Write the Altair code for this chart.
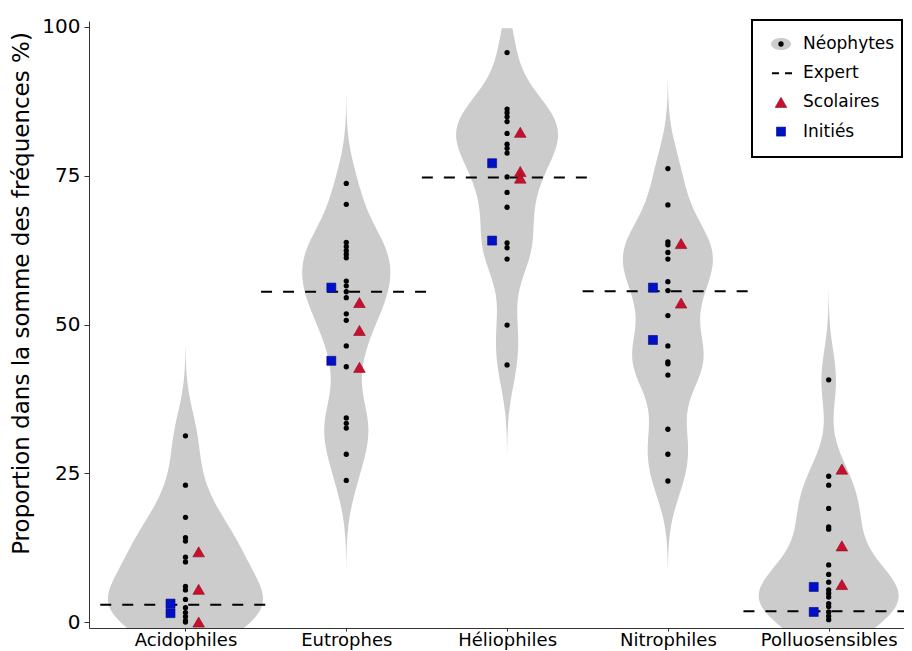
import json
import numpy as np
import pandas as pd
import altair as alt

# ---------------- data ----------------
categories = ["Acidophiles", "Eutrophes", "Héliophiles", "Nitrophiles", "Polluosensibles"]

neo_acidophiles = [31.3, 23.0, 17.6, 14.2, 13.6, 10.9, 10.1, 6.0, 5.4, 3.8, 2.4, 1.6, 0.9, 0.2, 0.0]
neo_eutrophes = [73.7, 70.2, 63.8, 63.1, 62.4, 61.8, 61.2, 57.3, 56.5, 55.5, 54.5, 51.8, 50.7,
                 46.4, 42.9, 34.3, 33.4, 32.6, 28.2, 23.8]
neo_heliophiles = [95.7, 86.2, 85.6, 84.9, 84.1, 82.1, 80.3, 79.6, 78.8, 74.8, 72.2, 69.7, 63.7,
                   62.9, 61.0, 49.9, 43.2]
neo_nitrophiles = [76.2, 70.1, 63.9, 63.4, 62.1, 61.0, 57.2, 55.7, 51.5, 46.4, 43.7, 43.4, 41.5,
                   32.4, 28.2, 23.7]
neo_polluosensibles = [40.7, 24.5, 23.0, 19.1, 16.0, 15.6, 9.6, 8.0, 6.7, 5.4, 4.8, 4.2, 3.1,
                       2.6, 1.7, 1.0, 0.4]

expert = [2.9, 55.5, 74.7, 55.6, 1.8]

scolaires_acidophiles = [11.8, 5.5, 0.0]
scolaires_eutrophes = [53.7, 49.0, 42.8]
scolaires_heliophiles = [82.3, 75.7, 74.6]
scolaires_nitrophiles = [63.6, 53.6]
scolaires_polluosensibles = [25.7, 12.8, 6.3]

inities_acidophiles = [3.1, 1.5]
inities_eutrophes = [56.2, 43.9]
inities_heliophiles = [77.1, 64.1]
inities_nitrophiles = [56.2, 47.4]
inities_polluosensibles = [5.9, 1.7]

violin_bandwidth = 5.0
y_ticks = [0, 25, 50, 75, 100]
legend_labels = ["Néophytes", "Expert", "Scolaires", "Initiés"]
y_title = "Proportion dans la somme des fréquences %)"

# ---------------- style / layout ----------------
# widest extent of each violin, in x-axis units (as seen on the reference)
violin_width = [0.964, 0.548, 0.634, 0.56, 0.87]
FONT = "DejaVu Sans"
PLOT_W, PLOT_H = 815, 607
PX_PER_UNIT = 160.8
X_MIN = 0.4
X_MAX = X_MIN + PLOT_W / PX_PER_UNIT

# ---------------- tables ----------------
neo = [neo_acidophiles, neo_eutrophes, neo_heliophiles, neo_nitrophiles, neo_polluosensibles]
sco = [scolaires_acidophiles, scolaires_eutrophes, scolaires_heliophiles,
       scolaires_nitrophiles, scolaires_polluosensibles]
ini = [inities_acidophiles, inities_eutrophes, inities_heliophiles,
       inities_nitrophiles, inities_polluosensibles]

df_neo = pd.DataFrame([{"cat": c, "idx": i + 1, "hw": violin_width[i] / 2, "value": v}
                       for i, c in enumerate(categories) for v in neo[i]])
df_sco = pd.DataFrame([{"cat": c, "idx": i + 1, "value": v}
                       for i, c in enumerate(categories) for v in sco[i]])
df_ini = pd.DataFrame([{"cat": c, "idx": i + 1, "value": v}
                       for i, c in enumerate(categories) for v in ini[i]])
df_exp = pd.DataFrame({"cat": categories, "idx": list(range(1, 6)), "value": expert})

BW = violin_bandwidth
x_scale = alt.Scale(domain=[X_MIN, X_MAX], nice=False, zero=False)
y_scale = alt.Scale(domain=[-1, 101], nice=False, zero=False)
label_expr = json.dumps(categories) + "[round(datum.value) - 1]"

x_axis = alt.Axis(values=[1, 2, 3, 4, 5], labelExpr=label_expr, title=None, grid=False,
                  tickSize=3, labelFontSize=18, labelFont=FONT, labelColor="black",
                  labelPadding=0, domainColor="#333333", tickColor="#333333", labelFlush=False,
                  labelOverlap=False)
y_axis = alt.Axis(values=y_ticks, title=y_title, grid=False, tickSize=5, labelFontSize=20,
                  labelFont=FONT, labelColor="black", labelPadding=4, domainColor="#333333",
                  tickColor="#333333", titleFont=FONT, titleFontSize=23, titleFontWeight="normal",
                  titleColor="black", titleX=-68, titleY=272, titleAngle=270,
                  titleAlign="center", titleBaseline="middle")

# ---------------- violins ----------------
violin = (
    alt.Chart(df_neo)
    .transform_joinaggregate(lo="min(value)", hi="max(value)", groupby=["cat"])
    .transform_density("value", groupby=["cat", "idx", "hw", "lo", "hi"], bandwidth=BW,
                       extent=[-20, 120], steps=561)
    .transform_filter(f"datum.value >= datum.lo - {3 * BW} && datum.value <= datum.hi + {3 * BW}"
                      " && datum.value <= 100")
    .transform_joinaggregate(dmax="max(density)", groupby=["cat"])
    .transform_calculate(xl="datum.idx - datum.density / datum.dmax * datum.hw",
                         xr="datum.idx + datum.density / datum.dmax * datum.hw")
    .mark_area(orient="horizontal", color="#cccccc", opacity=1, clip=True)
    .encode(
        y=alt.Y("value:Q", scale=y_scale, axis=y_axis),
        x=alt.X("xl:Q", scale=x_scale, axis=x_axis),
        x2="xr:Q",
        detail="cat:N",
    )
)

rule_expert = (
    alt.Chart(df_exp)
    .transform_calculate(x1="datum.idx - 0.53", x2="datum.idx + 0.53")
    .mark_rule(color="black", strokeWidth=2, strokeDash=[11, 11], clip=True)
    .encode(x=alt.X("x1:Q", scale=x_scale), x2="x2:Q", y=alt.Y("value:Q", scale=y_scale))
)

dots = (
    alt.Chart(df_neo)
    .mark_circle(size=28, color="black", opacity=1)
    .encode(x=alt.X("idx:Q", scale=x_scale), y=alt.Y("value:Q", scale=y_scale))
)

triangles = (
    alt.Chart(df_sco)
    .transform_calculate(xs="datum.idx + 0.082")
    .mark_point(shape="triangle-up", filled=True, size=135, fill="#C8102E", stroke="#8a0a1e",
                strokeWidth=0.6, opacity=1)
    .encode(x=alt.X("xs:Q", scale=x_scale), y=alt.Y("value:Q", scale=y_scale))
)

squares = (
    alt.Chart(df_ini)
    .transform_calculate(xs="datum.idx - 0.093")
    .mark_point(shape="square", filled=True, size=81, fill="#0010C8", stroke="#00087a",
                strokeWidth=0.6, opacity=1)
    .encode(x=alt.X("xs:Q", scale=x_scale), y=alt.Y("value:Q", scale=y_scale))
)

# ---------------- legend (drawn inside the panel) ----------------
one = alt.Data(values=[{}])
LX0, LX1, LY0, LY1 = 663, 813, -1, 136
SYM_X, TXT_X = 692, 714
rows_y = [23 + 29.2 * i for i in range(len(legend_labels))]

leg_box = alt.Chart(one).mark_rect(fill="white", stroke="black", strokeWidth=2).encode(
    x=alt.value(LX0), x2=alt.value(LX1), y=alt.value(LY0), y2=alt.value(LY1))
ellipse_path = "M-1,0A1,0.6,0,1,1,1,0A1,0.6,0,1,1,-1,0Z"
leg_ell = alt.Chart(one).mark_point(shape=ellipse_path, filled=True, fill="#cccccc", size=400,
                                    opacity=1, strokeWidth=0).encode(
    x=alt.value(SYM_X), y=alt.value(rows_y[0]))
leg_dot = alt.Chart(one).mark_circle(size=28, color="black", opacity=1).encode(
    x=alt.value(SYM_X), y=alt.value(rows_y[0]))
leg_dash = alt.Chart(one).mark_rule(color="black", strokeWidth=2, strokeDash=[7, 6]).encode(
    x=alt.value(SYM_X - 9), x2=alt.value(SYM_X + 11), y=alt.value(rows_y[1]))
leg_tri = alt.Chart(one).mark_point(shape="triangle-up", filled=True, size=135, fill="#C8102E",
                                    stroke="#8a0a1e", strokeWidth=0.6, opacity=1).encode(
    x=alt.value(SYM_X), y=alt.value(rows_y[2]))
leg_sq = alt.Chart(one).mark_point(shape="square", filled=True, size=81, fill="#0010C8",
                                   stroke="#00087a", strokeWidth=0.6, opacity=1).encode(
    x=alt.value(SYM_X), y=alt.value(rows_y[3]))
leg_txt = [
    alt.Chart(one).mark_text(align="left", baseline="middle", fontSize=17, font=FONT,
                             color="black").encode(
        x=alt.value(TXT_X), y=alt.value(rows_y[i]), text=alt.value(lab))
    for i, lab in enumerate(legend_labels)
]

chart = (
    alt.layer(violin, rule_expert, dots, triangles, squares,
              leg_box, leg_ell, leg_dot, leg_dash, leg_tri, leg_sq, *leg_txt)
    .properties(width=PLOT_W, height=PLOT_H,
                autosize=alt.AutoSizeParams(type="none"),
                padding={"left": 81, "top": 13, "right": 0, "bottom": 40})
    .configure(font=FONT)
    .configure_view(strokeWidth=0, stroke="transparent")
)

chart.save("out.html", embed_options={"renderer": "svg", "actions": False})
